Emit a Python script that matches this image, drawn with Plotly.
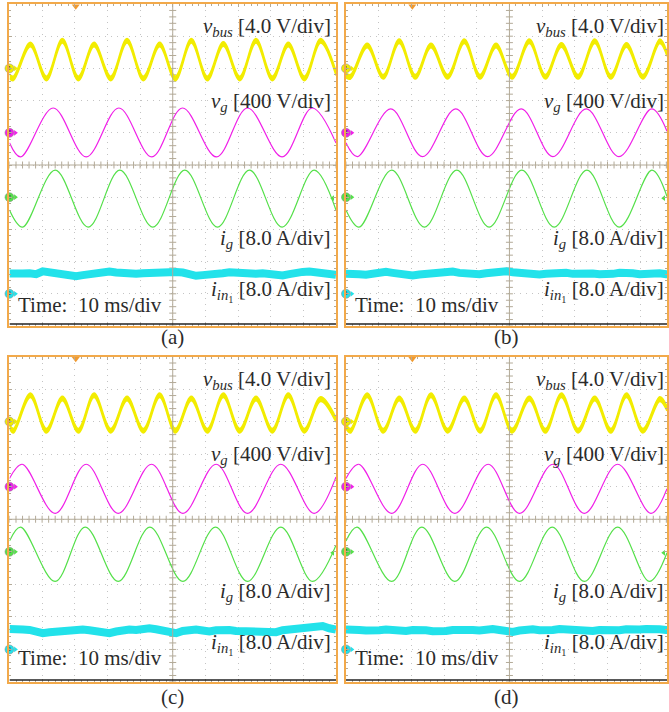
import numpy as np
import plotly.graph_objects as go

W, H = 669, 712

# ---------------- DATA (oscilloscope screen divisions; x: 10 ms/div, y: 0 = screen centre) ----
# channel ground markers (div)
ch_names = ["1", "3", "4", "2"]
ch_offsets = [3.0, 1.0, -1.0, -4.0]
VBUS_BAND = 0.07  # half height of the switching-ripple band on v_bus (div)

# ---- panel (a)
vbus_a_x = [0.00, 0.12, 0.64, 1.13, 1.62, 2.11, 2.59, 3.10, 3.60, 4.10, 4.60, 5.08, 5.57, 6.06, 6.55, 7.05, 7.55, 8.05, 8.54, 9.03, 9.53, 10.0]
vbus_a_y = [2.75, 2.69, 3.74, 2.69, 3.86, 2.69, 3.74, 2.69, 3.86, 2.69, 3.74, 2.69, 3.86, 2.69, 3.76, 2.69, 3.86, 2.69, 3.74, 2.69, 3.86, 2.85]
vg_a_x = [0.00, 0.34, 1.34, 2.35, 3.35, 4.36, 5.30, 6.34, 7.29, 8.35, 9.27, 10.0]
vg_a_y = [0.69, 0.25, 1.77, 0.25, 1.77, 0.25, 1.77, 0.25, 1.77, 0.25, 1.77, 0.68]
ig_a_x = [0.00, 0.40, 1.40, 2.41, 3.38, 4.39, 5.37, 6.37, 7.35, 8.35, 9.33, 10.0]
ig_a_y = [-1.40, -1.93, -0.16, -1.93, -0.16, -1.93, -0.16, -1.93, -0.16, -1.93, -0.16, -1.40]
iin_a_y = [-3.37, -3.39, -3.37, -3.36, -3.39, -3.30, -3.33, -3.37, -3.40, -3.42, -3.45, -3.42, -3.39, -3.36, -3.33, -3.31, -3.34, -3.37, -3.35, -3.38, -3.36, -3.34, -3.33, -3.31, -3.29, -3.32, -3.34, -3.39, -3.44, -3.42, -3.42, -3.39, -3.36, -3.33, -3.35, -3.37, -3.34, -3.38, -3.36, -3.39, -3.42, -3.43, -3.39, -3.34, -3.32, -3.31, -3.35, -3.34, -3.39, -3.41]

# ---- panel (b)
vbus_b_x = [0.00, 0.14, 0.65, 1.14, 1.63, 2.12, 2.60, 3.11, 3.62, 4.10, 4.59, 5.08, 5.61, 6.10, 6.59, 7.10, 7.61, 8.10, 8.58, 9.08, 9.60, 9.82]
vbus_b_y = [2.78, 2.74, 3.71, 2.74, 3.84, 2.74, 3.71, 2.74, 3.84, 2.74, 3.71, 2.74, 3.84, 2.74, 3.73, 2.74, 3.84, 2.74, 3.73, 2.74, 3.84, 3.45]
vg_b_x = [0.00, 0.35, 1.37, 2.34, 3.36, 4.33, 5.36, 6.33, 7.35, 8.35, 9.35, 9.82]
vg_b_y = [0.69, 0.26, 1.74, 0.26, 1.74, 0.26, 1.74, 0.26, 1.74, 0.26, 1.74, 1.05]
ig_b_x = [0.00, 0.40, 1.40, 2.40, 3.39, 4.38, 5.38, 6.37, 7.37, 8.36, 9.36, 9.82]
ig_b_y = [-1.40, -1.93, -0.16, -1.93, -0.16, -1.93, -0.16, -1.93, -0.16, -1.93, -0.16, -0.98]
iin_b_y = [-3.38, -3.36, -3.39, -3.41, -3.38, -3.34, -3.32, -3.35, -3.38, -3.41, -3.43, -3.40, -3.37, -3.35, -3.36, -3.33, -3.31, -3.35, -3.37, -3.36, -3.39, -3.36, -3.33, -3.31, -3.30, -3.33, -3.36, -3.40, -3.42, -3.40, -3.38, -3.36, -3.33, -3.35, -3.38, -3.36, -3.34, -3.37, -3.39, -3.41, -3.38, -3.35, -3.33, -3.36, -3.39, -3.37, -3.34, -3.36, -3.39, -3.40]

# ---- panel (c)
vbus_c_x = [0.00, 0.12, 0.64, 1.13, 1.62, 2.11, 2.59, 3.10, 3.60, 4.10, 4.60, 5.08, 5.57, 6.06, 6.55, 7.05, 7.55, 8.05, 8.54, 9.03, 9.53, 10.0]
vbus_c_y = [2.85, 2.72, 3.81, 2.72, 3.71, 2.72, 3.81, 2.72, 3.71, 2.72, 3.81, 2.72, 3.71, 2.72, 3.81, 2.72, 3.71, 2.72, 3.81, 2.72, 3.69, 3.05]
vg_c_x = [0.00, 0.39, 1.40, 2.35, 3.33, 4.35, 5.31, 6.33, 7.29, 8.31, 9.33, 10.0]
vg_c_y = [1.25, 1.69, 0.18, 1.69, 0.18, 1.69, 0.18, 1.69, 0.18, 1.69, 0.18, 1.30]
ig_c_x = [0.00, 0.34, 1.40, 2.32, 3.33, 4.30, 5.31, 6.31, 7.29, 8.31, 9.28, 10.0]
ig_c_y = [-0.67, -0.24, -1.91, -0.24, -1.91, -0.24, -1.91, -0.24, -1.91, -0.24, -1.91, -0.80]
iin_c_y = [-3.37, -3.35, -3.39, -3.40, -3.45, -3.50, -3.47, -3.45, -3.42, -3.40, -3.42, -3.39, -3.41, -3.44, -3.45, -3.50, -3.45, -3.41, -3.39, -3.40, -3.37, -3.35, -3.38, -3.42, -3.47, -3.50, -3.43, -3.40, -3.39, -3.42, -3.45, -3.41, -3.38, -3.40, -3.43, -3.44, -3.42, -3.45, -3.43, -3.45, -3.47, -3.41, -3.39, -3.41, -3.40, -3.38, -3.33, -3.28, -3.35, -3.39]

# ---- panel (d)
vbus_d_x = [0.00, 0.14, 0.65, 1.14, 1.63, 2.12, 2.60, 3.11, 3.62, 4.10, 4.59, 5.08, 5.61, 6.10, 6.59, 7.10, 7.61, 8.10, 8.58, 9.08, 9.60, 9.82]
vbus_d_y = [2.85, 2.72, 3.81, 2.72, 3.71, 2.72, 3.81, 2.72, 3.71, 2.72, 3.81, 2.72, 3.71, 2.72, 3.81, 2.72, 3.71, 2.72, 3.81, 2.72, 3.69, 3.40]
vg_d_x = [0.00, 0.39, 1.40, 2.35, 3.33, 4.35, 5.31, 6.33, 7.29, 8.31, 9.33, 9.82]
vg_d_y = [1.25, 1.69, 0.18, 1.69, 0.18, 1.69, 0.18, 1.69, 0.18, 1.69, 0.18, 0.94]
ig_d_x = [0.00, 0.34, 1.40, 2.32, 3.33, 4.30, 5.31, 6.31, 7.29, 8.31, 9.28, 9.82]
ig_d_y = [-0.67, -0.24, -1.91, -0.24, -1.91, -0.24, -1.91, -0.24, -1.91, -0.24, -1.91, -1.03]
iin_d_y = [-3.39, -3.37, -3.40, -3.42, -3.44, -3.41, -3.39, -3.42, -3.45, -3.43, -3.40, -3.38, -3.41, -3.44, -3.46, -3.43, -3.40, -3.38, -3.37, -3.40, -3.42, -3.39, -3.37, -3.40, -3.44, -3.46, -3.42, -3.39, -3.38, -3.41, -3.43, -3.40, -3.37, -3.39, -3.42, -3.44, -3.41, -3.43, -3.40, -3.42, -3.45, -3.41, -3.38, -3.40, -3.39, -3.37, -3.35, -3.38, -3.40, -3.41]

labels_vbus = "<i>v</i><sub><i>bus</i></sub> [4.0 V/div]"
labels_vg = "<i>v</i><sub><i>g</i></sub> [400 V/div]"
labels_ig = "<i>i</i><sub><i>g</i></sub> [8.0 A/div]"
labels_iin = "<i>i</i><sub><i>in</i><sub>1</sub></sub> [8.0 A/div]"
label_time = "Time:  10 ms/div"
captions = ["(a)", "(b)", "(c)", "(d)"]

# ---------------- STYLE ----------------
YELLOW = "#F2EC00"
MAGENTA = "#F020E8"
GREEN = "#55E04A"
CYAN = "#22E2EA"
ORANGE = "#F2A94A"
GRID = "#c4c4c4"
CROSS = "#b3aa98"
TXT = "#2b2b2b"
FONT = "Liberation Serif"
FS = 21

# panel geometry in pixels: x0, x1, y0(top), y1(bottom), visible divisions
geo = [
    (9.5, 337, 4, 326, 10.0),
    (347, 669, 4, 326, 9.82),
    (9.5, 337, 356.5, 682, 10.0),
    (347, 669, 356.5, 682, 9.82),
]
panel_data = [
    (vbus_a_x, vbus_a_y, vg_a_x, vg_a_y, ig_a_x, ig_a_y, iin_a_y),
    (vbus_b_x, vbus_b_y, vg_b_x, vg_b_y, ig_b_x, ig_b_y, iin_b_y),
    (vbus_c_x, vbus_c_y, vg_c_x, vg_c_y, ig_c_x, ig_c_y, iin_c_y),
    (vbus_d_x, vbus_d_y, vg_d_x, vg_d_y, ig_d_x, ig_d_y, iin_d_y),
]


def px(x):
    return x / W


def py(y):
    return 1 - y / H


fig = go.Figure()
layout = dict(width=W, height=H, margin=dict(l=0, r=0, t=0, b=0),
              paper_bgcolor="white", plot_bgcolor="white", showlegend=False)
shapes, annotations = [], []

for k, ((x0, x1, y0, y1, xmax), d) in enumerate(zip(geo, panel_data)):
    n = k + 1
    xa, ya = ("x", "y") if n == 1 else (f"x{n}", f"y{n}")
    xkey, ykey = ("xaxis", "yaxis") if n == 1 else (f"xaxis{n}", f"yaxis{n}")
    common = dict(showgrid=True, gridcolor=GRID, griddash="1px,5px", gridwidth=1,
                  dtick=1, tick0=0, showline=True, linecolor=ORANGE, linewidth=2,
                  mirror="ticks", ticks="inside", ticklen=3, tickcolor=CROSS,
                  minor=dict(dtick=0.2, ticks="inside", ticklen=2, tickcolor=CROSS, showgrid=False),
                  showticklabels=False, zeroline=False, fixedrange=True)
    layout[xkey] = dict(common, range=[0, xmax], domain=[px(x0), px(x1)], anchor=ya)
    layout[ykey] = dict(common, range=[-5, 5], domain=[py(y1), py(y0)], anchor=xa)

    # centre crosshair
    shapes.append(dict(type="line", xref=xa, yref=ya, x0=5, x1=5, y0=-5, y1=5,
                       line=dict(color=CROSS, width=1)))
    shapes.append(dict(type="line", xref=xa, yref=ya, x0=0, x1=xmax, y0=0, y1=0,
                       line=dict(color=CROSS, width=1)))
    shapes.append(dict(type="line", xref=xa, yref=ya, x0=0, x1=xmax, y0=-4.94, y1=-4.94,
                       line=dict(color="#222222", width=1.5)))
    tx = np.arange(0, xmax + 1e-9, 0.2)
    ty = np.arange(-5, 5 + 1e-9, 0.2)
    fig.add_trace(go.Scatter(x=tx, y=np.zeros_like(tx), mode="markers", xaxis=xa, yaxis=ya,
                             marker=dict(symbol="line-ns", size=5, line=dict(color=CROSS, width=1)),
                             hoverinfo="skip"))
    fig.add_trace(go.Scatter(x=np.full_like(ty, 5.0), y=ty, mode="markers", xaxis=xa, yaxis=ya,
                             marker=dict(symbol="line-ew", size=5, line=dict(color=CROSS, width=1)),
                             hoverinfo="skip"))

    vbx, vby, vgx, vgy, igx, igy, iiny = d
    lo = [v - VBUS_BAND for v in vby]
    hi = [v + VBUS_BAND for v in vby]
    fig.add_trace(go.Scatter(x=vbx, y=lo, mode="lines", xaxis=xa, yaxis=ya,
                             line=dict(color=YELLOW, width=1.5, shape="spline"), hoverinfo="skip"))
    fig.add_trace(go.Scatter(x=vbx, y=hi, mode="lines", xaxis=xa, yaxis=ya, fill="tonexty",
                             fillcolor=YELLOW,
                             line=dict(color=YELLOW, width=1.5, shape="spline"), hoverinfo="skip"))
    fig.add_trace(go.Scatter(x=vgx, y=vgy, mode="lines", xaxis=xa, yaxis=ya,
                             line=dict(color=MAGENTA, width=1.2, shape="spline"), hoverinfo="skip"))
    fig.add_trace(go.Scatter(x=igx, y=igy, mode="lines", xaxis=xa, yaxis=ya,
                             line=dict(color=GREEN, width=1.2, shape="spline"), hoverinfo="skip"))
    fig.add_trace(go.Scatter(x=np.linspace(0, 10, len(iiny)), y=iiny, mode="lines", xaxis=xa, yaxis=ya,
                             line=dict(color=CYAN, width=8), hoverinfo="skip"))

    # channel ground markers and trigger markers
    cols = [YELLOW, MAGENTA, GREEN, CYAN]
    fig.add_trace(go.Scatter(x=[0.18] * 4, y=ch_offsets, mode="markers", xaxis=xa, yaxis=ya,
                             marker=dict(symbol="triangle-right", size=5, color=cols),
                             cliponaxis=False, hoverinfo="skip"))
    fig.add_trace(go.Scatter(x=[0] * 4, y=ch_offsets, mode="markers+text", xaxis=xa, yaxis=ya,
                             text=ch_names, textfont=dict(size=6, color="#333"),
                             marker=dict(symbol="circle", size=9, color=cols,
                                         line=dict(color="#888", width=0.5)),
                             cliponaxis=False, hoverinfo="skip"))
    fig.add_trace(go.Scatter(x=[2.03], y=[4.93], mode="markers", xaxis=xa, yaxis=ya,
                             marker=dict(symbol="triangle-down", size=7, color="#F09A30"),
                             cliponaxis=False, hoverinfo="skip"))
    fig.add_trace(go.Scatter(x=[xmax - 0.1], y=[-1.03], mode="markers", xaxis=xa, yaxis=ya,
                             marker=dict(symbol="triangle-left", size=5, color=GREEN),
                             cliponaxis=False, hoverinfo="skip"))

    # texts
    right = x1 - 3 if n in (1, 3) else x1 - 1
    dy = y0 - 4
    for txt, yc in [(labels_vbus, 27), (labels_vg, 102), (labels_ig, 239), (labels_iin, 291)]:
        annotations.append(dict(text=txt, x=px(right), y=py(yc + dy), xref="paper", yref="paper",
                                xanchor="right", yanchor="middle", showarrow=False,
                                font=dict(family=FONT, size=FS, color=TXT)))
    annotations.append(dict(text=label_time, x=px(x0 + 7), y=py(305 + dy), xref="paper", yref="paper",
                            xanchor="left", yanchor="middle", showarrow=False,
                            font=dict(family=FONT, size=FS, color=TXT)))
    cx = 173 if n in (1, 3) else 508
    cy = 337 if n in (1, 2) else 697
    annotations.append(dict(text=captions[k], x=px(cx), y=py(cy), xref="paper", yref="paper",
                            xanchor="center", yanchor="middle", showarrow=False,
                            font=dict(family=FONT, size=FS, color=TXT)))

layout["shapes"] = shapes
layout["annotations"] = annotations
fig.update_layout(**layout)
fig.write_html("out.html")
